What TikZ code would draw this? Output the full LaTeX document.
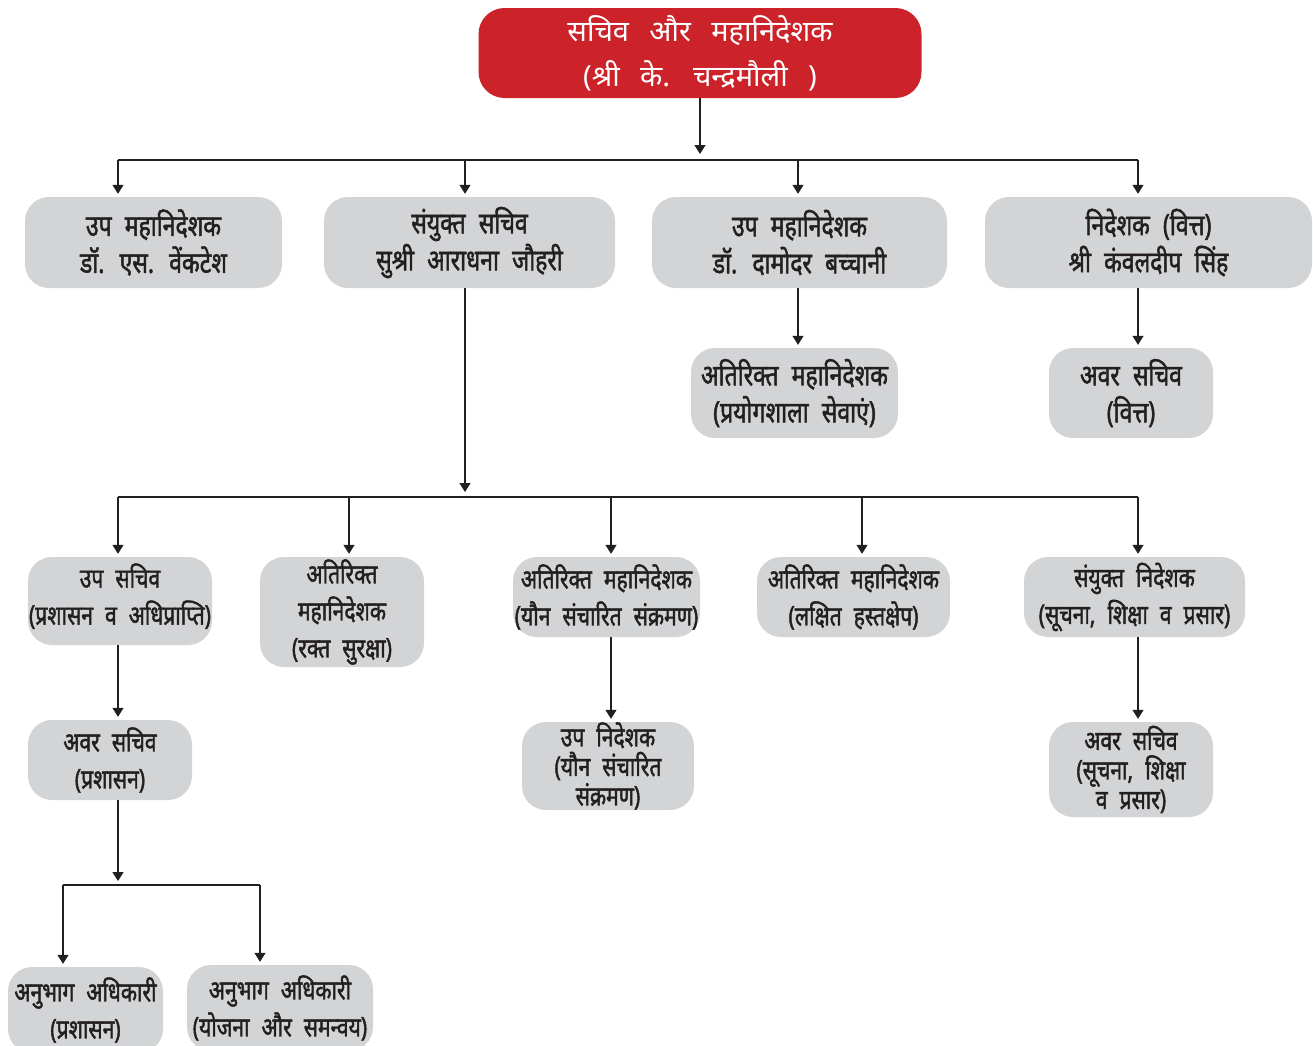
\documentclass[tikz,border=0pt]{standalone}
\usepackage{fontspec}
\newfontfamily\dev[Script=Devanagari,FakeStretch=0.78,FakeBold=1.6,WordSpace=2.2]{Noto Sans}
\newfontfamily\devtop[Script=Devanagari,WordSpace=2.7]{Noto Sans}
\usetikzlibrary{arrows.meta}
\definecolor{redbox}{HTML}{CC2229}
\definecolor{graybox}{HTML}{D3D4D6}
\definecolor{textdark}{HTML}{231F20}
\definecolor{linec}{HTML}{231F20}
\newcommand{\dn}[1]{\rule[-#1pt]{0pt}{#1pt}}
\tikzset{
  box/.style={fill=graybox, rounded corners=24, align=center, inner sep=0pt,
    text=textdark, font=\dev\fontsize{27}{37}\selectfont},
  big/.style={font=\dev\fontsize{29.5}{37}\selectfont},
  tight/.style={font=\dev\fontsize{27}{29.5}\selectfont},
  topbox/.style={fill=redbox, rounded corners=26, align=center, inner sep=0pt,
    text=white, font=\devtop\fontsize{29}{45}\selectfont},
  ln/.style={line width=1.3pt, draw=linec},
  arr/.style={ln, -{Triangle[width=11pt,length=9pt]}},
}
\begin{document}
\begin{tikzpicture}[x=1pt,y=-1pt]
\useasboundingbox (0,0) rectangle (1313,1045);
\clip (0,0) rectangle (1313,1045);
% nodes
\node[topbox, minimum width=443, minimum height=90] (top) at (700,53) {सचिव और महानिदेशक\\(श्री के. चन्द्रमौली )};
\node[box, big, minimum width=257, minimum height=91] (A) at (153.5,242.5) {उप महानिदेशक\\डॉ. एस. वेंकटेश};
\node[box, big, minimum width=291, minimum height=91] (B) at (469.5,242.5) {संयुक्त सचिव\\सुश्री आराधना जौहरी};
\node[box, big, minimum width=295, minimum height=91] (C) at (799.5,242.5) {उप महानिदेशक\\डॉ. दामोदर बच्चानी};
\node[box, big, minimum width=327, minimum height=91] (D) at (1148.5,242.5) {निदेशक (वित्त)\\श्री कंवलदीप सिंह};
\node[box, big, minimum width=207, minimum height=90] (E) at (794.5,393) {अतिरिक्त महानिदेशक\\(प्रयोगशाला सेवाएं)};
\node[box, big, minimum width=164, minimum height=90] (F) at (1131,393) {\rule{0pt}{12pt}अवर सचिव\\(वित्त)};
\node[box, minimum width=184, minimum height=88] (G) at (120,601) {उप सचिव\\(प्रशासन व अधिप्राप्ति)\dn{14}};
\node[box, minimum width=164, minimum height=110] (H) at (342,612) {अतिरिक्त\\महानिदेशक\\(रक्त सुरक्षा)};
\node[box, minimum width=187, minimum height=80] (I) at (606.5,597) {अतिरिक्त महानिदेशक\\(यौन संचारित संक्रमण)};
\node[box, minimum width=193, minimum height=80] (J) at (853.5,597) {अतिरिक्त महानिदेशक\\(लक्षित हस्तक्षेप)};
\node[box, minimum width=221, minimum height=80] (K) at (1134.5,597) {संयुक्त निदेशक\\(सूचना, शिक्षा व प्रसार)};
\node[box, minimum width=164, minimum height=80] (L) at (110,760) {अवर सचिव\\(प्रशासन)};
\node[box, tight, minimum width=172, minimum height=88] (M) at (608,766) {उप निदेशक\\(यौन संचारित\\संक्रमण)};
\node[box, tight, minimum width=164, minimum height=95] (N) at (1131,769.5) {अवर सचिव\\(सूचना, शिक्षा\\व प्रसार)};
\node[box, minimum width=155, minimum height=86] (O) at (85.5,1010) {अनुभाग अधिकारी\\(प्रशासन)};
\node[box, minimum width=186, minimum height=86] (P) at (280,1008) {अनुभाग अधिकारी\\(योजना और समन्वय)};
% coordinates
\coordinate (t1) at (700,154);
\coordinate (h1a) at (118,160);
\coordinate (h1b) at (465,160);
\coordinate (h1c) at (798,160);
\coordinate (h1d) at (1138,160);
\coordinate (t2) at (465,492);
\coordinate (h2a) at (118,497);
\coordinate (h2b) at (349,497);
\coordinate (h2c) at (611,497);
\coordinate (h2d) at (862,497);
\coordinate (h2e) at (1138,497);
\coordinate (t3) at (118,881);
\coordinate (h3a) at (63,885);
\coordinate (h3b) at (260,885);
% connectors
\draw[arr] (top.south -| t1) -- (t1);
\draw[ln] (h1a) -- (h1d);
\foreach \c/\n in {h1a/A,h1b/B,h1c/C,h1d/D}
  \draw[arr, shorten >=3pt] (\c) -- (\c |- \n.north);
\draw[arr, shorten >=3pt] (C.south -| h1c) -- (E.north -| h1c);
\draw[arr, shorten >=3pt] (D.south -| h1d) -- (F.north -| h1d);
\draw[arr] (B.south -| h1b) -- (t2);
\draw[ln] (h2a) -- (h2e);
\foreach \c/\n in {h2a/G,h2b/H,h2c/I,h2d/J,h2e/K}
  \draw[arr, shorten >=3pt] (\c) -- (\c |- \n.north);
\draw[arr, shorten >=3pt] (G.south -| h2a) -- (L.north -| h2a);
\draw[arr, shorten >=3pt] (I.south -| h2c) -- (M.north -| h2c);
\draw[arr, shorten >=3pt] (K.south -| h2e) -- (N.north -| h2e);
\draw[arr] (L.south -| t3) -- (t3);
\draw[ln] (h3a) -- (h3b);
\draw[arr, shorten >=3pt] (h3a) -- (h3a |- O.north);
\draw[arr, shorten >=3pt] (h3b) -- (h3b |- P.north);
\end{tikzpicture}
\end{document}
